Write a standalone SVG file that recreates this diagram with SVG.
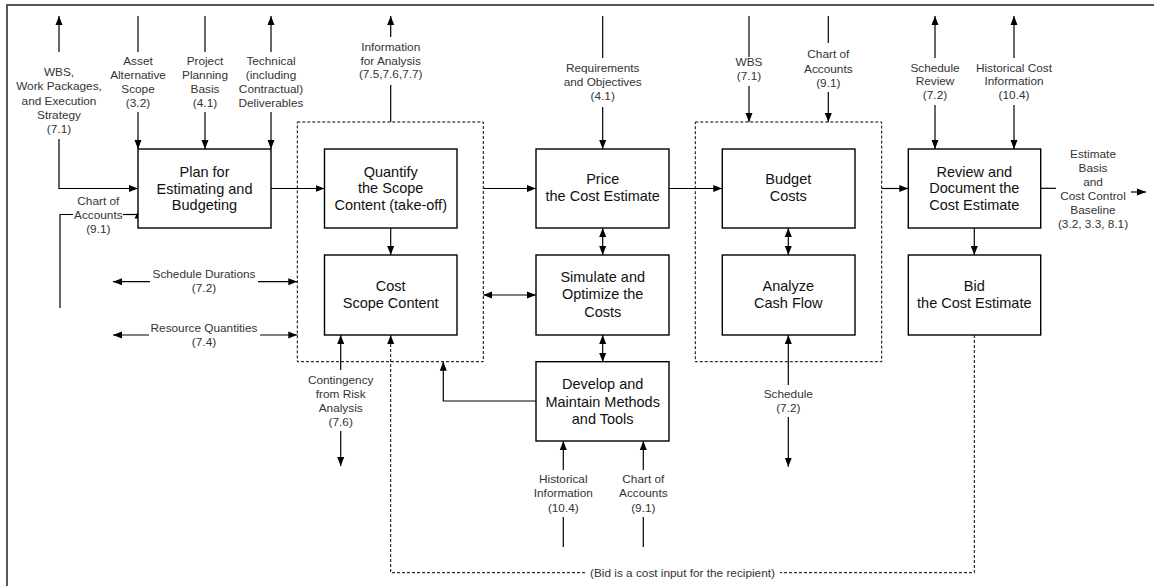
<svg xmlns="http://www.w3.org/2000/svg" width="1154" height="586" viewBox="0 0 1154 586">
<defs>
<marker id="ah" markerUnits="userSpaceOnUse" markerWidth="9" markerHeight="8" refX="9" refY="4" orient="auto-start-reverse" viewBox="0 0 9 8"><path d="M0,0.5 L9,4 L0,7.5 z" fill="#000"/></marker>
<style>
.frame{fill:none;stroke:#444;stroke-width:1.8}
.box{fill:#fff;stroke:#000;stroke-width:1.4}
.grp{fill:none;stroke:#000;stroke-width:1;stroke-dasharray:3 2}
.ln{fill:none;stroke:#000;stroke-width:1.2}
.dl{fill:none;stroke:#000;stroke-width:1;stroke-dasharray:3 2}
.a{marker-end:url(#ah)}
.aa{marker-start:url(#ah);marker-end:url(#ah)}
.bt{font-family:"Liberation Sans",Arial,sans-serif;font-size:14.5px;fill:#111;text-anchor:middle}
.lt{font-family:"Liberation Sans",Arial,sans-serif;font-size:11.8px;fill:#333;text-anchor:middle}
</style>
</defs>
<rect class="frame" x="7" y="5" width="1160" height="600"/>

<g id="groups">
<rect id="group-scope" class="grp" x="297.3" y="122" width="186" height="239.7"/>
<rect id="group-budget" class="grp" x="695.3" y="122" width="186.4" height="239.7"/>
</g>

<g id="connectors">
<path class="ln a" d="M59,52 L59,16"/>
<path class="ln a" d="M59,139 L59,188.5 L138,188.5"/>
<path class="ln" d="M138,16 L138,52"/>
<path class="ln a" d="M138,112 L138,149"/>
<path class="ln" d="M205,16 L205,52"/>
<path class="ln a" d="M205,112 L205,149"/>
<path class="ln a" d="M271,52 L271,16"/>
<path class="ln a" d="M271,112 L271,149"/>
<path class="ln" d="M60,308 L60,214.5 L73,214.5"/>
<path class="ln" d="M123,214.5 L138,214.5"/>
<polygon points="134.5,218.5 141.5,218.5 138,211.5" fill="#000"/>
<path class="ln a" d="M271,188.5 L324.5,188.5"/>
<path class="ln" d="M390.7,122 L390.7,85"/>
<path class="ln a" d="M390.7,37 L390.7,16"/>
<path class="ln a" d="M390.7,228 L390.7,255"/>
<path class="ln a" d="M150,281.7 L113,281.7"/>
<path class="ln a" d="M258,281.7 L297.3,281.7"/>
<path class="ln a" d="M149,335 L113,335"/>
<path class="ln a" d="M260,335 L297.3,335"/>
<path class="ln a" d="M340.7,370 L340.7,335"/>
<path class="ln a" d="M340.7,431 L340.7,466"/>
<path class="dl" d="M974.3,335 L974.3,572.7 L780,572.7"/>
<path class="dl a" d="M585,572.7 L390.7,572.7 L390.7,335"/>
<path class="ln a" d="M483.3,188.5 L536,188.5"/>
<path class="ln aa" d="M483.3,295 L536,295"/>
<path class="ln a" d="M536,401 L443.3,401 L443.3,361.7"/>
<path class="ln" d="M602.7,16 L602.7,58"/>
<path class="ln a" d="M602.7,107 L602.7,149"/>
<path class="ln aa" d="M602.7,228 L602.7,255"/>
<path class="ln aa" d="M602.7,335 L602.7,362"/>
<path class="ln a" d="M563.3,470 L563.3,441"/>
<path class="ln" d="M563.3,517 L563.3,547"/>
<path class="ln a" d="M643.3,470 L643.3,441"/>
<path class="ln" d="M643.3,517 L643.3,547"/>
<path class="ln a" d="M669,188.5 L722.3,188.5"/>
<path class="ln" d="M749,16 L749,57"/>
<path class="ln a" d="M749,86 L749,122"/>
<path class="ln" d="M828.3,16 L828.3,43"/>
<path class="ln a" d="M828.3,92 L828.3,122"/>
<path class="ln aa" d="M788.3,228 L788.3,255"/>
<path class="ln a" d="M788.3,385 L788.3,335"/>
<path class="ln a" d="M788.3,417 L788.3,466.7"/>
<path class="ln a" d="M881.7,188.5 L908.3,188.5"/>
<path class="ln a" d="M935,58 L935,16"/>
<path class="ln a" d="M935,105 L935,149"/>
<path class="ln a" d="M1014,58 L1014,16"/>
<path class="ln a" d="M1014,105 L1014,149"/>
<path class="ln a" d="M974.3,228 L974.3,255"/>
<path class="ln" d="M1040.7,188.3 L1056,188.3"/>
<path class="ln a" d="M1131,192 L1146,192"/>
</g>

<g id="labels">
<text class="lt"><tspan x="59" y="76">WBS,</tspan><tspan x="59" y="90.3">Work Packages,</tspan><tspan x="59" y="104.6">and Execution</tspan><tspan x="59" y="118.9">Strategy</tspan><tspan x="59" y="133.2">(7.1)</tspan></text>
<text class="lt"><tspan x="138" y="65">Asset</tspan><tspan x="138" y="79">Alternative</tspan><tspan x="138" y="93">Scope</tspan><tspan x="138" y="107">(3.2)</tspan></text>
<text class="lt"><tspan x="205" y="65">Project</tspan><tspan x="205" y="79">Planning</tspan><tspan x="205" y="93">Basis</tspan><tspan x="205" y="107">(4.1)</tspan></text>
<text class="lt"><tspan x="271" y="65">Technical</tspan><tspan x="271" y="79">(including</tspan><tspan x="271" y="93">Contractual)</tspan><tspan x="271" y="107">Deliverables</tspan></text>
<text class="lt"><tspan x="98.3" y="205">Chart of</tspan><tspan x="98.3" y="219">Accounts</tspan><tspan x="98.3" y="233">(9.1)</tspan></text>
<text class="lt"><tspan x="390.7" y="50.7">Information</tspan><tspan x="390.7" y="64.5">for Analysis</tspan><tspan x="390.7" y="78.3">(7.5,7.6,7.7)</tspan></text>
<text class="lt"><tspan x="204" y="277.7">Schedule Durations</tspan><tspan x="204" y="292">(7.2)</tspan></text>
<text class="lt"><tspan x="204" y="331.7">Resource Quantities</tspan><tspan x="204" y="346">(7.4)</tspan></text>
<text class="lt"><tspan x="340.7" y="384">Contingency</tspan><tspan x="340.7" y="398">from Risk</tspan><tspan x="340.7" y="412">Analysis</tspan><tspan x="340.7" y="426">(7.6)</tspan></text>
<text class="lt" x="682.5" y="576.7">(Bid is a cost input for the recipient)</text>
<text class="lt"><tspan x="602.7" y="71.7">Requirements</tspan><tspan x="602.7" y="85.5">and Objectives</tspan><tspan x="602.7" y="99.5">(4.1)</tspan></text>
<text class="lt"><tspan x="563.3" y="483.3">Historical</tspan><tspan x="563.3" y="497.3">Information</tspan><tspan x="563.3" y="511.5">(10.4)</tspan></text>
<text class="lt"><tspan x="643.3" y="483.3">Chart of</tspan><tspan x="643.3" y="497.3">Accounts</tspan><tspan x="643.3" y="511.5">(9.1)</tspan></text>
<text class="lt"><tspan x="749" y="65.7">WBS</tspan><tspan x="749" y="80">(7.1)</tspan></text>
<text class="lt"><tspan x="828.3" y="58.3">Chart of</tspan><tspan x="828.3" y="72.7">Accounts</tspan><tspan x="828.3" y="87">(9.1)</tspan></text>
<text class="lt"><tspan x="788.3" y="398.3">Schedule</tspan><tspan x="788.3" y="412.3">(7.2)</tspan></text>
<text class="lt"><tspan x="935" y="71.7">Schedule</tspan><tspan x="935" y="85.3">Review</tspan><tspan x="935" y="99.3">(7.2)</tspan></text>
<text class="lt"><tspan x="1014" y="71.7">Historical Cost</tspan><tspan x="1014" y="85.3">Information</tspan><tspan x="1014" y="99.3">(10.4)</tspan></text>
<text class="lt"><tspan x="1093" y="158.3">Estimate</tspan><tspan x="1093" y="172.3">Basis</tspan><tspan x="1093" y="186.3">and</tspan><tspan x="1093" y="200.3">Cost Control</tspan><tspan x="1093" y="214.3">Baseline</tspan><tspan x="1093" y="228.3">(3.2, 3.3, 8.1)</tspan></text>
</g>

<g id="node-plan"><rect class="box" x="138" y="149" width="133" height="79"/><text class="bt"><tspan x="204.5" y="177">Plan for</tspan><tspan x="204.5" y="193.5">Estimating and</tspan><tspan x="204.5" y="210">Budgeting</tspan></text></g>
<g id="node-quantify"><rect class="box" x="324.5" y="149" width="132.5" height="79"/><text class="bt"><tspan x="390.7" y="176.5">Quantify</tspan><tspan x="390.7" y="193">the Scope</tspan><tspan x="390.7" y="210">Content (take-off)</tspan></text></g>
<g id="node-cost-scope"><rect class="box" x="324.5" y="255" width="132.5" height="80"/><text class="bt"><tspan x="390.7" y="290.7">Cost</tspan><tspan x="390.7" y="307.5">Scope Content</tspan></text></g>
<g id="node-price"><rect class="box" x="536" y="149" width="133" height="79"/><text class="bt"><tspan x="602.7" y="184">Price</tspan><tspan x="602.7" y="200.7">the Cost Estimate</tspan></text></g>
<g id="node-simulate"><rect class="box" x="536" y="255" width="133" height="80"/><text class="bt"><tspan x="602.7" y="281.7">Simulate and</tspan><tspan x="602.7" y="299">Optimize the</tspan><tspan x="602.7" y="316.5">Costs</tspan></text></g>
<g id="node-develop"><rect class="box" x="536" y="361.7" width="133" height="79.3"/><text class="bt"><tspan x="602.7" y="389">Develop and</tspan><tspan x="602.7" y="406.5">Maintain Methods</tspan><tspan x="602.7" y="424">and Tools</tspan></text></g>
<g id="node-budget"><rect class="box" x="722.3" y="149" width="132.7" height="79"/><text class="bt"><tspan x="788.3" y="184">Budget</tspan><tspan x="788.3" y="201">Costs</tspan></text></g>
<g id="node-cashflow"><rect class="box" x="722.3" y="255" width="132.7" height="80"/><text class="bt"><tspan x="788.3" y="290.7">Analyze</tspan><tspan x="788.3" y="307.5">Cash Flow</tspan></text></g>
<g id="node-review"><rect class="box" x="908.3" y="149" width="132.4" height="79"/><text class="bt"><tspan x="974.3" y="176.5">Review and</tspan><tspan x="974.3" y="193">Document the</tspan><tspan x="974.3" y="209.5">Cost Estimate</tspan></text></g>
<g id="node-bid"><rect class="box" x="908.3" y="255" width="132.4" height="80"/><text class="bt"><tspan x="974.3" y="290.7">Bid</tspan><tspan x="974.3" y="307.5">the Cost Estimate</tspan></text></g>
</svg>
